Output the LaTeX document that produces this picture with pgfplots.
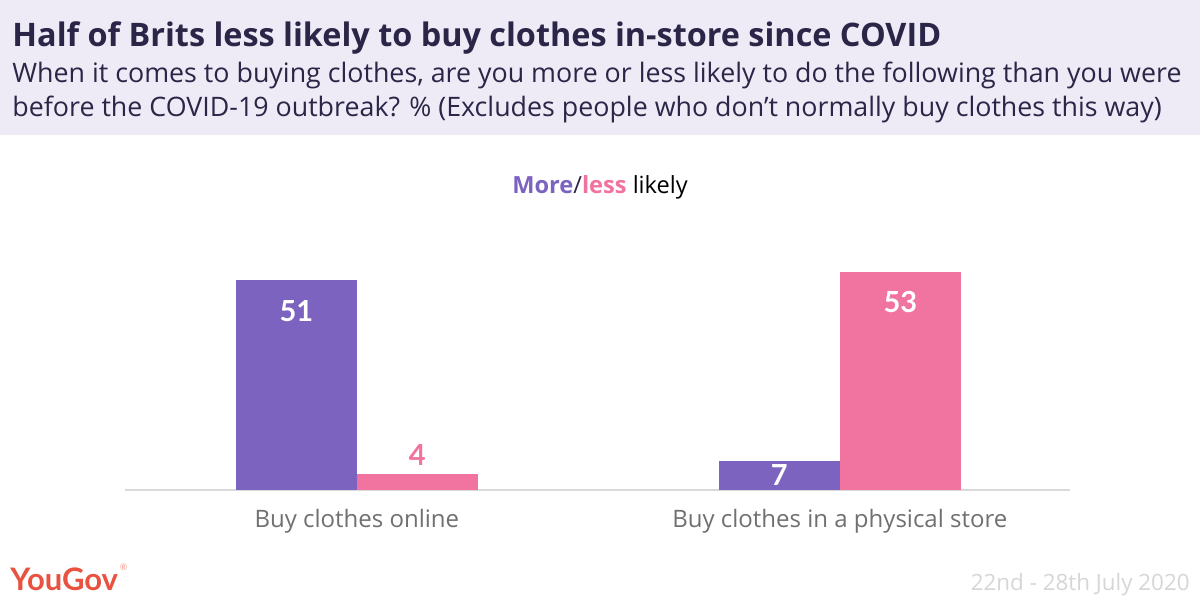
\documentclass[border=0pt]{standalone}
\usepackage{pgfplots}
\pgfplotsset{compat=1.18}
\usepackage{fontspec}
\setmainfont{Open Sans}
\newfontfamily\lato{Lato}

\definecolor{hdr}{HTML}{EEEBF6}
\definecolor{titlec}{HTML}{2B2647}
\definecolor{purp}{HTML}{7B63BF}
\definecolor{pinkc}{HTML}{F073A0}
\definecolor{axisc}{HTML}{D9D9D9}
\definecolor{catc}{HTML}{707070}
\definecolor{yougov}{HTML}{E8523F}
\definecolor{datec}{HTML}{D6D6D6}

\begin{document}
\begin{tikzpicture}
  % canvas: 1 px of the reference = 0.5pt
  \fill[white] (0pt,0pt) rectangle (600pt,300pt);
  \useasboundingbox (0pt,0pt) rectangle (600pt,300pt);
  \fill[hdr] (0pt,232.5pt) rectangle (600pt,300pt);

  \node[anchor=base west, inner sep=0, text=titlec,
        font=\fontsize{16.2}{20}\selectfont\bfseries] at (6pt,276.5pt)
        {Half of Brits less likely to buy clothes in-store since COVID};
  \node[anchor=base west, inner sep=0, text=titlec,
        font=\fontsize{13.4}{15}\selectfont] at (6pt,258.5pt)
        {When it comes to buying clothes, are you more or less likely to do the following than you were};
  \node[anchor=base west, inner sep=0, text=titlec,
        font=\fontsize{13.4}{15}\selectfont] at (6pt,241.5pt)
        {before the COVID-19 outbreak? \% (Excludes people who don’t normally buy clothes this way)};

  \node[anchor=base, inner sep=0, font=\fontsize{11.8}{14}\selectfont] at (300pt,203pt)
        {{\bfseries\color{purp}More}{\color{titlec}/}{\bfseries\color{pinkc}less} likely};

  \node[anchor=base west, inner sep=0, text=yougov,
        font=\fontsize{15.5}{18}\selectfont\lato\bfseries] at (5pt,5pt) (yg) {YouGov};
  \node[anchor=south west, inner sep=0, text=yougov!60,
        font=\fontsize{4.5}{5}\selectfont\lato] at ([xshift=0.5pt,yshift=-2pt]yg.north east) {®};
  \node[anchor=base east, inner sep=0, text=datec,
        font=\fontsize{11.2}{13}\selectfont] at (595pt,5pt)
        {22nd - 28th July 2020};

  \begin{axis}[
      at={(62.5pt,55pt)}, anchor=south west,
      x=241.5pt, y=2.0566pt,
      xmin=-0.48, xmax=1.476, ymin=0, ymax=53,
      axis y line=none, axis x line=bottom,
      x axis line style={-, draw=axisc, line width=0.75pt},
      xtick={0,1},
      xticklabels={Buy clothes online, Buy clothes in a physical store},
      major tick length=0, ytick=\empty,
      xticklabel style={anchor=base, yshift=-18.5pt, text=catc,
                        font=\fontsize{12}{14}\selectfont},
      clip=false,
      /pgf/number format/assume math mode=true,
      ybar, bar width=60.5pt,
      nodes near coords,
      every node near coord/.append style={anchor=center,
                        font=\fontsize{14.5}{16}\selectfont\lato\bfseries},
    ]
    \addplot[fill=purp, draw=none, bar shift=-30.25pt,
             every node near coord/.append style={text=white, yshift=-15.5pt}]
      coordinates {(0,51)};
    \addplot[fill=purp, draw=none, bar shift=-30.25pt,
             every node near coord/.append style={text=white, yshift=-7pt}]
      coordinates {(1,7)};
    \addplot[fill=pinkc, draw=none, bar shift=30.25pt,
             every node near coord/.append style={text=pinkc, yshift=9.5pt}]
      coordinates {(0,4)};
    \addplot[fill=pinkc, draw=none, bar shift=30.25pt,
             every node near coord/.append style={text=white, yshift=-15pt}]
      coordinates {(1,53)};
  \end{axis}
\end{tikzpicture}
\end{document}
